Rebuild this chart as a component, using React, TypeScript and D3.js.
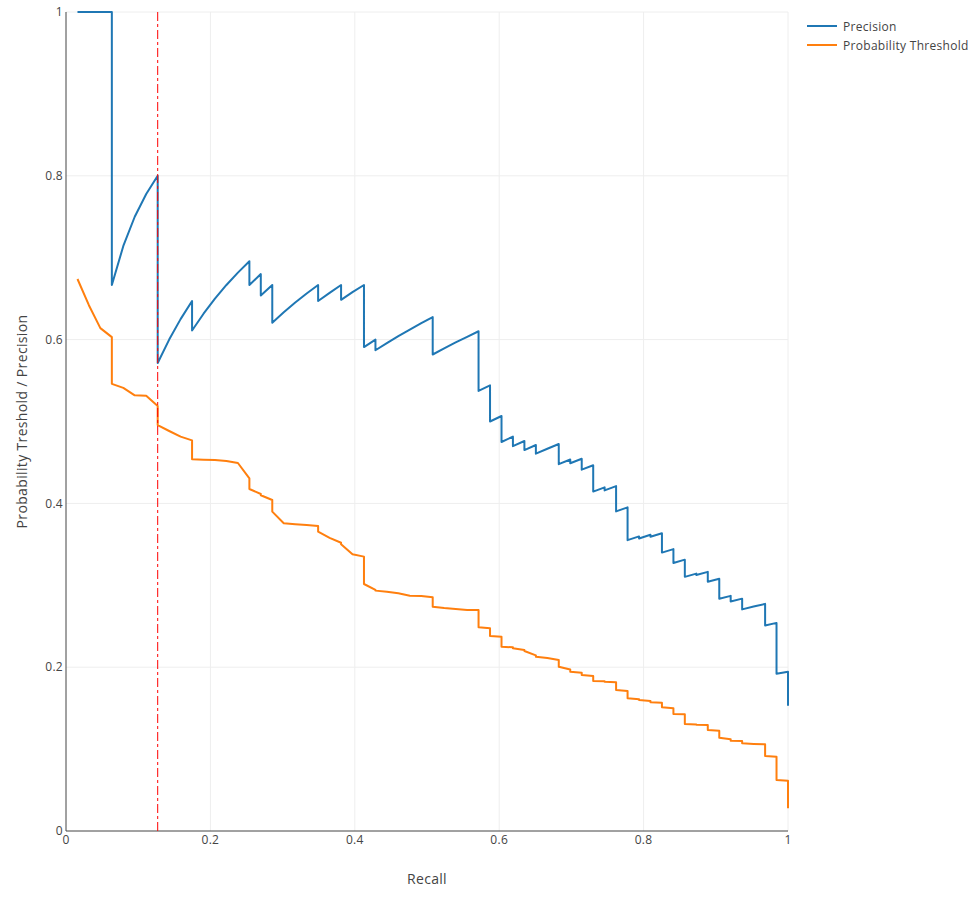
import React from "react";
import * as d3 from "d3";

// recall / precision / threshold at each vertex of the curve
const recall = [
  0.0159, 0.0317, 0.0476, 0.0635, 0.0635, 0.0794, 0.0952, 0.1111, 0.127, 0.127,
  0.1429, 0.1587, 0.1746, 0.1746, 0.1905, 0.2063, 0.2222, 0.2381, 0.254, 0.254,
  0.2698, 0.2698, 0.2857, 0.2857, 0.3016, 0.3175, 0.3333, 0.3492, 0.3492, 0.3651,
  0.381, 0.381, 0.3968, 0.4127, 0.4127, 0.4286, 0.4286, 0.4444, 0.4603, 0.4762,
  0.4921, 0.5079, 0.5079, 0.5238, 0.5397, 0.5556, 0.5714, 0.5714, 0.5873, 0.5873,
  0.6032, 0.6032, 0.619, 0.619, 0.6349, 0.6349, 0.6508, 0.6508, 0.6667, 0.6825,
  0.6825, 0.6984, 0.6984, 0.7143, 0.7143, 0.7302, 0.7302, 0.746, 0.746, 0.7619,
  0.7619, 0.7778, 0.7778, 0.7937, 0.7937, 0.8095, 0.8095, 0.8254, 0.8254, 0.8413,
  0.8413, 0.8571, 0.8571, 0.873, 0.873, 0.8889, 0.8889, 0.9048, 0.9048, 0.9206,
  0.9206, 0.9365, 0.9365, 0.9524, 0.9683, 0.9683, 0.9841, 0.9841, 1, 1,
];

const precision = [
  1, 1, 1, 1, 0.6667, 0.7143, 0.75, 0.7778, 0.8, 0.5714,
  0.6, 0.625, 0.6471, 0.6111, 0.6316, 0.65, 0.6667, 0.6818, 0.6957, 0.6667,
  0.68, 0.6538, 0.6667, 0.6207, 0.6333, 0.6452, 0.6563, 0.6667, 0.6471, 0.6571,
  0.6667, 0.6486, 0.6579, 0.6667, 0.5909, 0.6, 0.587, 0.5957, 0.6042, 0.6122,
  0.62, 0.6275, 0.5818, 0.5893, 0.5965, 0.6034, 0.6102, 0.5373, 0.5441, 0.5,
  0.5067, 0.475, 0.4815, 0.4699, 0.4762, 0.4651, 0.4713, 0.4607, 0.4667, 0.4725,
  0.4479, 0.4536, 0.449, 0.4545, 0.4412, 0.4466, 0.4144, 0.4196, 0.4159, 0.4211,
  0.3902, 0.3952, 0.3551, 0.3597, 0.3571, 0.3617, 0.3592, 0.3636, 0.3399, 0.3442,
  0.3272, 0.3313, 0.3103, 0.3143, 0.3125, 0.3164, 0.3043, 0.3081, 0.2836, 0.2871,
  0.2802, 0.2837, 0.2706, 0.274, 0.2773, 0.251, 0.2541, 0.192, 0.1944, 0.1529,
];

const threshold = [
  0.674, 0.642, 0.614, 0.603, 0.546, 0.541, 0.532, 0.5315, 0.519, 0.4957,
  0.4884, 0.4815, 0.477, 0.4538, 0.4534, 0.453, 0.4518, 0.4493, 0.4306, 0.4176,
  0.4115, 0.41, 0.4042, 0.39, 0.3757, 0.3745, 0.3736, 0.3724, 0.3655, 0.358,
  0.352, 0.35, 0.3378, 0.335, 0.3016, 0.2943, 0.2935, 0.2922, 0.2902, 0.2873,
  0.2869, 0.2853, 0.2739, 0.2723, 0.2711, 0.2698, 0.2698, 0.2487, 0.2475, 0.2381,
  0.2373, 0.225, 0.2243, 0.2231, 0.221, 0.2198, 0.2145, 0.2128, 0.2112, 0.2088,
  0.2006, 0.1972, 0.1945, 0.1933, 0.1905, 0.1893, 0.1832, 0.1828, 0.1822, 0.1816,
  0.1722, 0.1709, 0.162, 0.1608, 0.16, 0.1587, 0.1571, 0.1567, 0.151, 0.1498,
  0.1429, 0.1425, 0.1306, 0.13, 0.1298, 0.1294, 0.1233, 0.1225, 0.1139, 0.112,
  0.1103, 0.1099, 0.1071, 0.1063, 0.1058, 0.0916, 0.0907, 0.0623, 0.0614, 0.0277,
];

const chosenRecall = 0.127;
const tickValues = [0, 0.2, 0.4, 0.6, 0.8, 1];
const seriesNames = ["Precision", "Probability Threshold"];
const seriesColors = ["#1f77b4", "#ff7f0e"];

const W = 980;
const H = 899;
const font = "'Open Sans', 'Noto Sans', sans-serif";

const App: React.FC = () => {
  const x = d3.scaleLinear().domain([0, 1]).range([66, 788]);
  const y = d3.scaleLinear().domain([0, 1]).range([831, 12]);

  const line = d3
    .line<number>()
    .x((_, i) => x(recall[i]))
    .y((d) => y(d));

  const fmt = (v: number) => (v === 0 || v === 1 ? String(v) : v.toFixed(1));

  return (
    <svg
      width={W}
      height={H}
      style={{ position: "absolute", left: 0, top: 0, background: "#fff" }}
      fontFamily={font}
    >
      {/* grid */}
      {tickValues.slice(1).map((t) => (
        <g key={"g" + t}>
          <line x1={x(t)} x2={x(t)} y1={y(0)} y2={y(1)} stroke="#eee" strokeWidth={1} />
          <line x1={x(0)} x2={x(1)} y1={y(t)} y2={y(t)} stroke="#eee" strokeWidth={1} />
        </g>
      ))}

      {/* axis lines */}
      <line x1={x(0)} x2={x(1)} y1={y(0)} y2={y(0)} stroke="#444" strokeWidth={1} />
      <line x1={x(0)} x2={x(0)} y1={y(0)} y2={y(1)} stroke="#444" strokeWidth={1} />

      {/* ticks */}
      {tickValues.map((t) => (
        <text key={"x" + t} x={x(t)} y={844} textAnchor="middle" fontSize={12} fill="#444" letterSpacing={0.3}>
          {fmt(t)}
        </text>
      ))}
      {tickValues.map((t) => (
        <text key={"y" + t} x={63} y={y(t) + 4.2} textAnchor="end" fontSize={12} fill="#444" letterSpacing={0.3}>
          {fmt(t)}
        </text>
      ))}

      {/* series */}
      <path d={line(precision) || ""} fill="none" stroke={seriesColors[0]} strokeWidth={2} strokeLinejoin="round" />
      <path d={line(threshold) || ""} fill="none" stroke={seriesColors[1]} strokeWidth={2} strokeLinejoin="round" />

      {/* chosen threshold marker */}
      <line
        x1={x(chosenRecall)}
        x2={x(chosenRecall)}
        y1={y(1)}
        y2={y(0)}
        stroke="red"
        strokeWidth={1}
        strokeDasharray="9,3,3,3"
      />

      {/* axis titles */}
      <text x={427} y={884} textAnchor="middle" fontSize={14} fill="#444" letterSpacing={0.3}>
        Recall
      </text>
      <text
        transform="translate(27,421.5) rotate(-90)"
        textAnchor="middle"
        fontSize={14}
        fill="#444"
        letterSpacing={0.35}
      >
        Probability Treshold / Precision
      </text>

      {/* legend */}
      {seriesNames.map((name, i) => (
        <g key={name} transform={`translate(0, ${26 + i * 19})`}>
          <line x1={807} x2={837} y1={0} y2={0} stroke={seriesColors[i]} strokeWidth={2} />
          <text x={843} y={4.5} fontSize={12} fill="#444" letterSpacing={0.3}>
            {name}
          </text>
        </g>
      ))}
    </svg>
  );
};

export default App;
